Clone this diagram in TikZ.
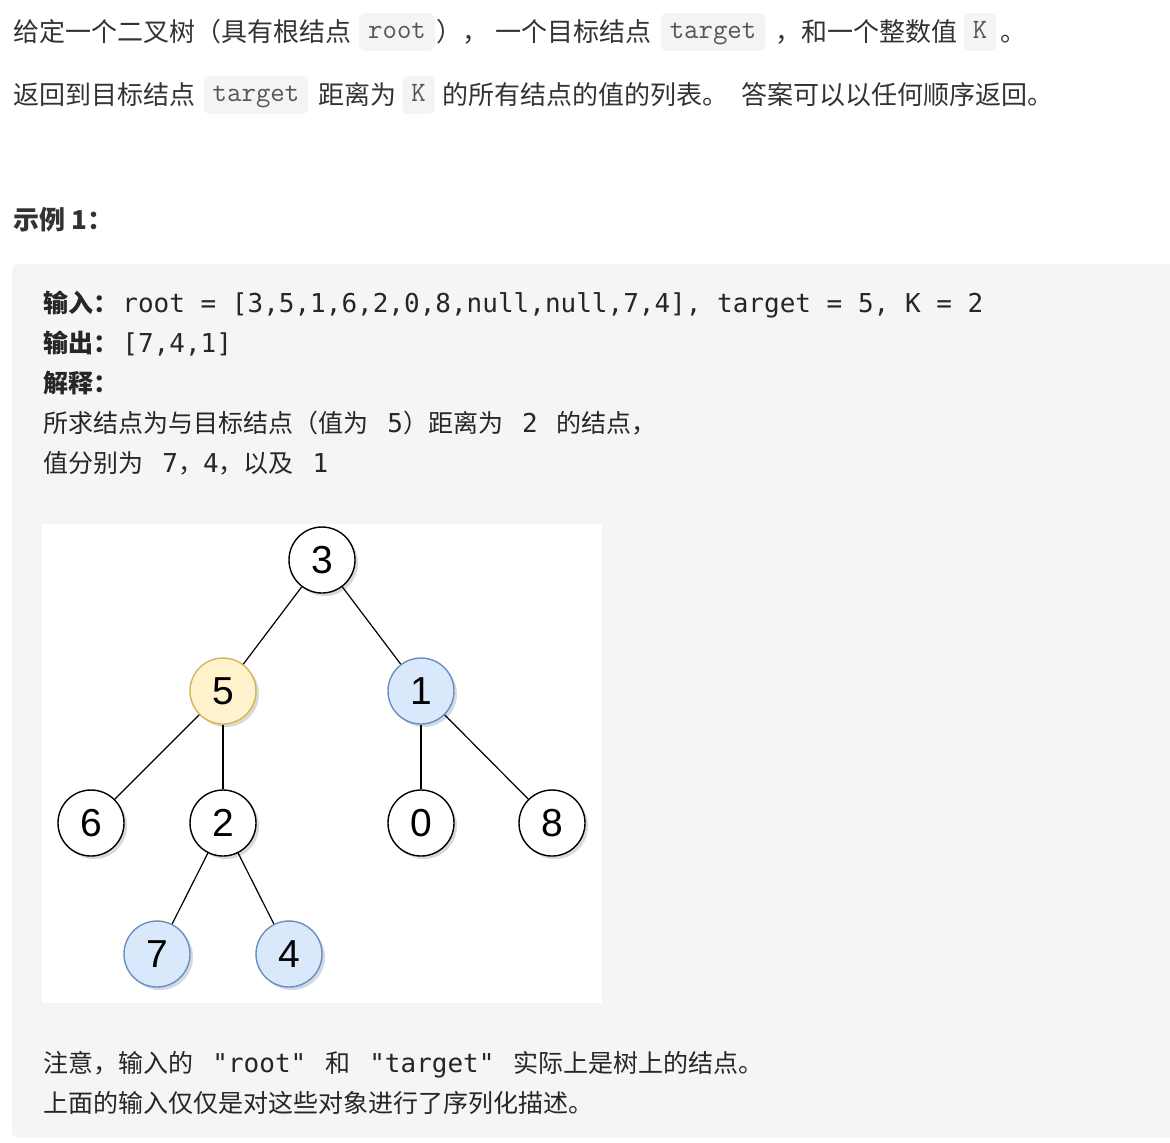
\documentclass[tikz,border=0pt]{standalone}
\usepackage{fontspec}
\newfontfamily\zhfont{Noto Sans CJK SC}
\newfontfamily\ttmono{DejaVu Sans Mono}
\newfontfamily\numfont{Liberation Sans}
\usetikzlibrary{positioning,shadows}

\definecolor{txtgray}{HTML}{333333}
\definecolor{blkgray}{HTML}{262626}
\definecolor{codegray}{HTML}{555555}
\definecolor{codebg}{HTML}{F3F4F5}
\definecolor{blockbg}{HTML}{F5F5F5}
\definecolor{yellowfill}{HTML}{FFF2CC}
\definecolor{yellowline}{HTML}{D6B656}
\definecolor{bluefill}{HTML}{DAE8FC}
\definecolor{blueline}{HTML}{6C8EBF}
\definecolor{shadowblue}{HTML}{7A8494}

\newcommand{\mt}[1]{{\ttmono\fontsize{13pt}{15pt}\selectfont #1}}
\newcommand{\wsp}{\hspace{9.5pt}}

\begin{document}
\begin{tikzpicture}[x=0.5pt,y=-0.5pt,node distance=66pt,
  txt/.style={anchor=base west,inner sep=0pt,text=txtgray,
    font=\zhfont\fontsize{13pt}{15pt}\selectfont},
  blk/.style={txt,text=blkgray,font=\zhfont\fontsize{12.5pt}{15pt}\selectfont},
  inlinecode/.style={fill=codebg,rounded corners=3pt,inner xsep=4.5pt,inner ysep=0pt,
    minimum height=19pt,text height=8.5pt,text depth=2.5pt,text=codegray,
    font=\ttfamily\fontsize{14pt}{15pt}\selectfont},
  state/.style={circle,draw=black,line width=0.7pt,minimum size=33pt,inner sep=0pt,
    fill=white,font=\numfont\fontsize{19.5pt}{20pt}\selectfont,
    drop shadow={shadow xshift=1.5pt,shadow yshift=-1.5pt,opacity=0.3,fill=shadowblue}},
  target/.style={state,fill=yellowfill,draw=yellowline},
  found/.style={state,fill=bluefill,draw=blueline}]
  \tikzstyle{panel} = [fill=blockbg,rounded corners=3pt]
  \useasboundingbox (0,0) rectangle (1170,1142);

  % task text
  \node[txt] (L1A) at (13,41) {给定一个二叉树（具有根结点};
  \node[inlinecode] (ROOT) at (397,32) {root};
  \node[txt] (L1B) at (436,41) {），\hspace{3.5pt}一个目标结点};
  \node[inlinecode] (TGTA) at (713,32) {target};
  \node[txt] (L1C) at (775,41) {，和一个整数值};
  \node[inlinecode] (KA) at (980,32) {K};
  \node[txt] (L1D) at (1000,41) {。};

  \node[txt] (L2A) at (13,104) {返回到目标结点};
  \node[inlinecode] (TGTB) at (256,95) {target};
  \node[txt] (L2B) at (318,104) {距离为};
  \node[inlinecode] (KB) at (418.5,95) {K};
  \node[txt] (L2C) at (442,104) {的所有结点的值的列表。\hspace{6.5pt}答案可以以任何顺序返回。};

  \node[txt] (EXAMPLE) at (13,229) {\bfseries 示例 1：};

  % example block
  \fill[panel] (12,264) rectangle (1190,1138);
  \node[blk] (IN) at (43,312) {\bfseries 输入：};
  \node[blk] (INV) at (122,312) {\mt{root = [3,5,1,6,2,0,8,null,null,7,4], target = 5, K = 2}};
  \node[blk] (OUT) at (43,352) {\bfseries 输出：};
  \node[blk] (OUTV) at (122,352) {\mt{[7,4,1]}};
  \node[blk] (EXPL) at (43,392) {\bfseries 解释：};
  \node[blk] (EXPA) at (43,432) {所求结点为与目标结点（值为\wsp\mt{5}）距离为\wsp\mt{2}\wsp 的结点，};
  \node[blk] (EXPB) at (43,472) {值分别为\wsp\mt{7}，\mt{4}，以及\wsp\mt{1}};

  % tree
  \fill[white] (42,524) rectangle (602,1003);
  \node[state]  (N3) at (322,560) {3};
  \node[target] (N5) at (223,691) {5};
  \node[found]  (N1) at (421,691) {1};
  \node[state]  (N6) at (91,823)  {6};
  \node[state]  (N2) [below of=N5] {2};
  \node[state]  (N0) [below of=N1] {0};
  \node[state]  (N8) at (552,823) {8};
  \node[found]  (N7) at (157,954) {7};
  \node[found]  (N4) at (289,954) {4};
  \path[line width=0.6pt]
      (N3) edge (N5)
      (N3) edge (N1)
      (N5) edge (N6)
      (N5) edge (N2)
      (N1) edge (N0)
      (N1) edge (N8)
      (N2) edge (N7)
      (N2) edge (N4);

  \node[blk] (NOTEA) at (43,1072) {注意，输入的\wsp\mt{"root"}\wsp 和\wsp\mt{"target"}\wsp 实际上是树上的结点。};
  \node[blk] (NOTEB) at (43,1112) {上面的输入仅仅是对这些对象进行了序列化描述。};
\end{tikzpicture}
\end{document}
